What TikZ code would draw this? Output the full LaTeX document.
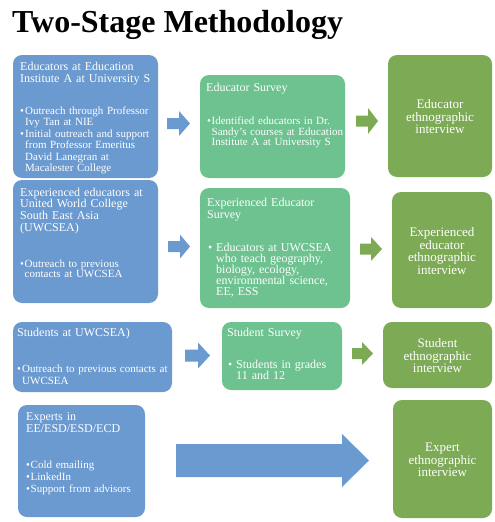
\documentclass[tikz,border=0pt]{standalone}
\usepackage{fontspec}
\setmainfont{Liberation Serif}
\definecolor{boxblue}{RGB}{106,154,208}
\definecolor{boxgreen}{RGB}{109,194,144}
\definecolor{boxdark}{RGB}{125,170,85}
\newcommand\bul[2][5pt]{\raggedright\hangindent=#1\hangafter=1\noindent\makebox[#1][l]{\textbullet}#2\par}
\newcommand\blockarrow[7]{% tail x, head start x, tip x, center y, shaft half, head half, colour
  \fill[#7] (#1,#4-#5) -- (#2,#4-#5) -- (#2,#4-#6) -- (#3,#4) -- (#2,#4+#6) -- (#2,#4+#5) -- (#1,#4+#5) -- cycle;}
\tikzset{
  rbox/.style={rounded corners=9pt},
  txt/.style={anchor=north west, inner sep=0pt, text=white, align=left, text width=160pt},
  ctxt/.style={inner sep=0pt, text=white, align=center, font=\fontsize{13}{12.5}\selectfont},
  hd/.style={font=\fontsize{12}{12.5}\selectfont},
}
\begin{document}
\begin{tikzpicture}[x=1pt,y=-1pt]
\useasboundingbox (0,0) rectangle (495,522);
% title
\node[anchor=base west, inner sep=0pt, font=\bfseries\fontsize{32}{34}\selectfont] (title) at (12,32.5) {Two-Stage Methodology};

% ---------- row 1
\fill[boxblue,rbox] (13,55) rectangle (158,178);
\node[txt,font=\fontsize{12}{12.7}\selectfont] (a1h) at (20,61.5) {Educators at Education\\Institute A at University S};
\node[txt,font=\fontsize{11}{11.4}\selectfont] (a1b) at (20,106.5)
  {\bul{Outreach through Professor\newline Ivy Tan at NIE}\bul{Initial outreach and support\newline from Professor Emeritus\newline David Lanegran at\newline Macalester College}};
\blockarrow{167}{179}{190}{123.5}{5.5}{12.5}{boxblue}

\fill[boxgreen,rbox] (200,75) rectangle (345,178);
\node[txt,hd] (b1h) at (206,82.5) {Educator Survey};
\node[txt,font=\fontsize{11}{10.7}\selectfont] (b1b) at (207,116.5)
  {\bul[4.5pt]{Identified educators in Dr.\newline Sandy’s courses at Education\newline Institute A at University S}};
\blockarrow{356}{368}{378}{121}{5.5}{13}{boxdark}

\fill[boxdark,rbox] (388,55) rectangle (492,177);
\node[ctxt] (c1) at (440,117) {Educator\\ethnographic\\interview};

% ---------- row 2
\fill[boxblue,rbox] (13,180) rectangle (158,303);
\node[txt,font=\fontsize{12}{11.7}\selectfont] (a2h) at (20,187.5) {Experienced educators at\\United World College\\South East Asia\\(UWCSEA)};
\node[txt,font=\fontsize{11}{10.3}\selectfont] (a2b) at (20,259.5)
  {\bul[4.5pt]{Outreach to previous\newline contacts at UWCSEA}};
\blockarrow{168}{180}{190}{246.5}{5.5}{12}{boxblue}

\fill[boxgreen,rbox] (200,188) rectangle (350,308);
\node[txt,font=\fontsize{12}{12}\selectfont] (b2h) at (207,197.5) {Experienced Educator\\Survey};
\node[txt,font=\fontsize{12}{11}\selectfont] (b2b) at (208,242.5)
  {\bul[8pt]{Educators at UWCSEA\newline who teach geography,\newline biology, ecology,\newline environmental science,\newline EE, ESS}};
\blockarrow{360}{371}{382}{249}{5.5}{12}{boxdark}

\fill[boxdark,rbox] (392,192) rectangle (492,308);
\node[ctxt] (c2) at (442,251) {Experienced\\educator\\ethnographic\\interview};

% ---------- row 3
\fill[boxblue,rbox] (13,322) rectangle (172,392);
\node[txt,hd] (a3h) at (17,327.5) {Students at UWCSEA)};
\node[txt,font=\fontsize{11}{11.7}\selectfont] (a3b) at (17,364.5)
  {\bul{Outreach to previous contacts at\newline UWCSEA}};
\blockarrow{185}{198}{210}{355.5}{6}{13}{boxblue}

\fill[boxgreen,rbox] (222,322) rectangle (342,390);
\node[txt,hd] (b3h) at (227,327.5) {Student Survey};
\node[txt,font=\fontsize{12}{11.5}\selectfont] (b3b) at (228,359.5)
  {\bul[8pt]{Students in grades\newline 11 and 12}};
\blockarrow{352}{362}{373}{353.5}{5.5}{11.5}{boxdark}

\fill[boxdark,rbox] (383,322) rectangle (492,388);
\node[ctxt] (c3) at (437.5,356) {Student\\ethnographic\\interview};

% ---------- row 4
\fill[boxblue,rbox] (18,405) rectangle (145,517);
\node[txt,font=\fontsize{12}{12.3}\selectfont] (a4h) at (26,412.5) {Experts in\\EE/ESD/ESD/ECD};
\node[txt,font=\fontsize{11}{12}\selectfont] (a4b) at (26,460.5)
  {\bul[4.5pt]{Cold emailing}\bul[4.5pt]{LinkedIn}\bul[4.5pt]{Support from advisors}};
\blockarrow{176}{342}{369}{460.5}{16.5}{26.5}{boxblue}

\fill[boxdark,rbox] (393,400) rectangle (492,518);
\node[ctxt] (c4) at (442.5,460) {Expert\\ethnographic\\interview};
\end{tikzpicture}
\end{document}
